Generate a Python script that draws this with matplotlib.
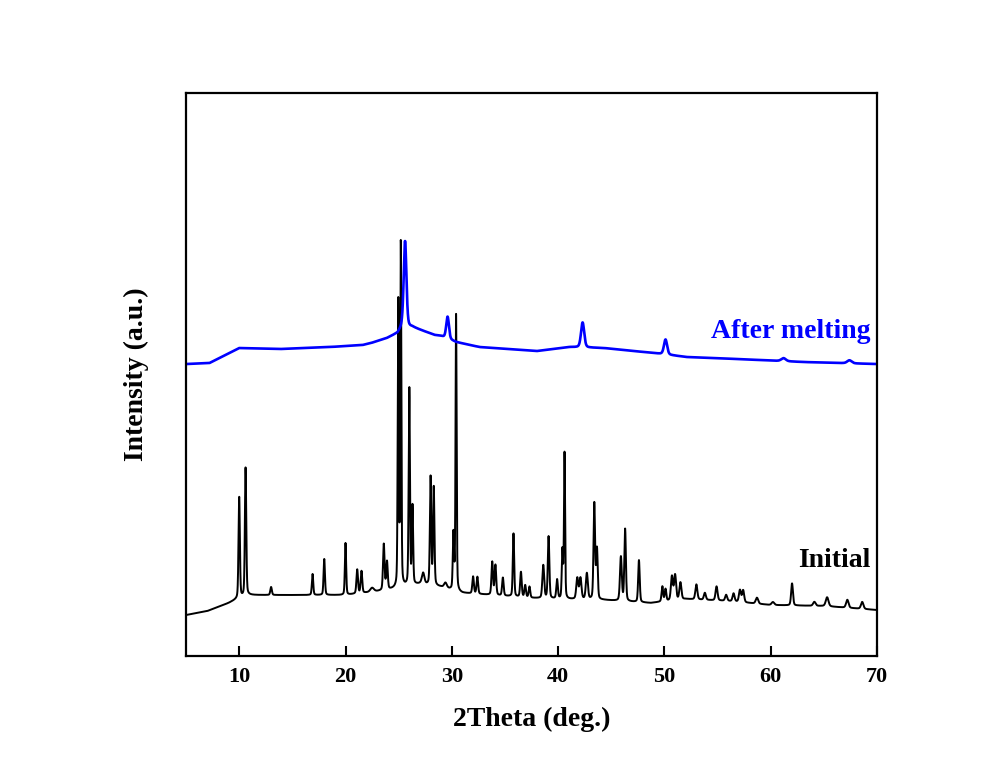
import numpy as np
import matplotlib.pyplot as plt

# background curves (2theta, intensity a.u.)
initial_base_x = [5, 7, 9, 9.8, 10.8, 15, 20, 22.5, 24, 26.5, 27, 29, 31, 35, 37.5, 40, 44.3, 48.7, 52, 56, 60, 65, 70]
initial_base_y = [41, 45, 53, 57, 61, 61, 61, 64, 66, 71, 72, 69, 63, 60, 58, 57, 56, 53, 57, 55, 51, 50, 46]

melted_base_x = [5, 7.2, 8.5, 10, 13.8, 18.5, 21.6, 22.4, 23.9, 24.9, 25.3, 26.3, 28.4, 29, 30.4, 32.6, 38, 41.1, 44.3, 49, 52.1, 56.9, 63.1, 70]
melted_base_y = [292, 293, 300, 308, 307, 309, 311, 313, 318, 323, 329, 329, 321, 320, 314, 309, 305, 309, 308, 303, 299, 297, 294, 292]

# peaks: position, height above background, FWHM
initial_pos = [10.0, 10.6, 13.0, 16.9, 18.0, 20.0, 21.1, 21.5, 22.5, 23.6, 23.9,
               24.96, 25.2, 26.0, 26.3, 27.3, 28.0, 28.3, 29.4, 30.15, 30.4,
               32.0, 32.4, 33.8, 34.1, 34.8, 35.8, 36.5, 36.9, 37.3, 38.6, 39.1,
               39.9, 40.4, 40.6, 41.8, 42.1, 42.7, 43.4, 43.65, 45.9, 46.3, 47.6,
               49.8, 50.1, 50.7, 51.0, 51.5, 53.0, 53.8, 54.9, 55.8, 56.5, 57.1,
               57.4, 58.7, 60.2, 62.0, 64.1, 65.3, 67.2, 68.6]
initial_height = [101, 128, 8, 21, 36, 52, 24, 22, 4, 46, 28,
                  285, 342, 197, 78, 11, 108, 98, 5, 56, 276,
                  17, 17, 33, 30, 18, 63, 25, 12, 11, 33, 62,
                  19, 48, 146, 21, 21, 26, 96, 50, 44, 72, 42,
                  15, 12, 24, 25, 17, 15, 7, 14, 6, 8, 12,
                  12, 6, 3, 22, 4, 9, 8, 7]
initial_width = [0.15, 0.15, 0.17, 0.15, 0.15, 0.14, 0.17, 0.17, 0.4, 0.17, 0.17,
                 0.12, 0.12, 0.14, 0.14, 0.28, 0.15, 0.15, 0.3, 0.14, 0.12,
                 0.17, 0.17, 0.17, 0.17, 0.17, 0.15, 0.17, 0.17, 0.17, 0.2, 0.17,
                 0.17, 0.14, 0.12, 0.22, 0.22, 0.22, 0.17, 0.17, 0.2, 0.17, 0.17,
                 0.17, 0.17, 0.22, 0.22, 0.22, 0.22, 0.22, 0.22, 0.22, 0.22, 0.22,
                 0.22, 0.27, 0.3, 0.2, 0.27, 0.3, 0.27, 0.27]

melted_pos = [25.6, 29.6, 42.3, 50.1, 61.2, 67.4]
melted_height = [86, 22, 25, 15, 3, 3]
melted_width = [0.3, 0.3, 0.35, 0.35, 0.5, 0.5]

xticks = [10, 20, 30, 40, 50, 60, 70]


def pattern(x, base_x, base_y, pos, height, width, eta=0.3):
    y = np.interp(x, base_x, base_y)
    for p, h, w in zip(pos, height, width):
        g = np.exp(-4 * np.log(2) * ((x - p) / w) ** 2)
        l = 1 / (1 + 4 * ((x - p) / w) ** 2)
        y = y + h * (eta * l + (1 - eta) * g)
    return y


two_theta = np.linspace(5, 70, 8001)
initial = pattern(two_theta, initial_base_x, initial_base_y, initial_pos, initial_height, initial_width)
melted = pattern(two_theta, melted_base_x, melted_base_y, melted_pos, melted_height, melted_width)

plt.rcParams['font.family'] = ['Liberation Serif', 'DejaVu Serif']
plt.rcParams['font.weight'] = 'bold'

fig = plt.figure(figsize=(10.04, 7.76), dpi=100)
ax = fig.add_axes([0.1853, 0.1546, 0.6883, 0.7255])

ax.plot(two_theta, initial, color='black', lw=1.4)
ax.plot(two_theta, melted, color='#0000ff', lw=1.9)

ax.text(69.4, 325, 'After melting', color='#0000ff', fontsize=20, fontweight='bold', ha='right', va='center')
ax.text(69.4, 96, 'Initial', color='black', fontsize=20, fontweight='bold', ha='right', va='center')

ax.set_xlim(5, 70)
ax.set_ylim(0, 563)
ax.set_xticks(xticks)
ax.set_yticks([])
ax.tick_params(axis='x', direction='in', length=7, width=1.5, labelsize=16, pad=8)
for lab in ax.get_xticklabels():
    lab.set_fontweight('bold')
for sp in ax.spines.values():
    sp.set_linewidth(1.6)

ax.set_xlabel('2Theta (deg.)', fontsize=20, fontweight='bold', labelpad=14)
ax.set_ylabel('Intensity (a.u.)', fontsize=20, fontweight='bold', labelpad=27)

fig.savefig('out.png', dpi=100)
